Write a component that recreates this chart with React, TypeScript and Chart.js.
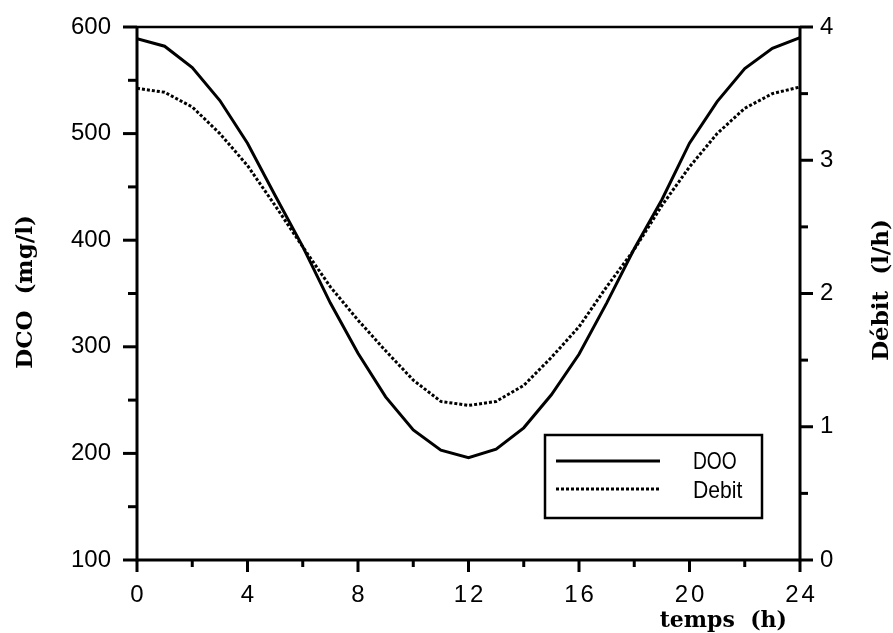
import React, { useEffect, useRef } from "react";
import { Chart, registerables } from "chart.js";

Chart.register(...registerables);

const hours = [0, 1, 2, 3, 4, 5, 6, 7, 8, 9, 10, 11, 12, 13, 14, 15, 16, 17, 18, 19, 20, 21, 22, 23, 24];
const dcoValues = [589, 582, 562, 531, 491, 442, 394, 341, 294, 253, 222, 203, 196, 204, 224, 255, 293, 341, 392, 438, 491, 530, 561, 580, 590];
const debitValues = [3.54, 3.51, 3.4, 3.2, 2.96, 2.66, 2.35, 2.05, 1.8, 1.57, 1.35, 1.19, 1.16, 1.19, 1.31, 1.52, 1.75, 2.05, 2.33, 2.66, 2.95, 3.2, 3.39, 3.5, 3.55];

const xMajorTicks = [0, 4, 8, 12, 16, 20, 24];
const xMinorTicks = [2, 6, 10, 14, 18, 22];
const dcoMajorTicks = [100, 200, 300, 400, 500, 600];
const dcoMinorTicks = [150, 250, 350, 450, 550];
const debitMajorTicks = [0, 1, 2, 3, 4];
const debitMinorTicks = [0.5, 1.5, 2.5, 3.5];

const seriesNames = ["DOO", "Debit"];
const xTitle = "temps  (h)";
const yLeftTitle = "DCO  (mg/l)";
const yRightTitle = "Débit  (l/h)";

const sansFont = '"Liberation Sans", Arial, sans-serif';
const serifFont = '"DejaVu Serif", "Liberation Serif", serif';

const decorPlugin = {
  id: "decor",
  afterDraw(chart: any) {
    const { ctx, chartArea, scales } = chart;
    const { left, right, top, bottom } = chartArea;
    const x = scales.x;
    const y = scales.y;
    const y1 = scales.y1;
    const line = (x0: number, y0: number, x1: number, y1p: number) => {
      ctx.beginPath();
      ctx.moveTo(x0, y0);
      ctx.lineTo(x1, y1p);
      ctx.stroke();
    };
    ctx.save();
    ctx.strokeStyle = "#000";
    ctx.fillStyle = "#000";
    ctx.lineCap = "butt";

    // frame
    ctx.lineWidth = 3;
    line(left, top - 1, left, bottom + 1.5);
    line(right, top - 1, right, bottom + 1.5);
    line(left, bottom, right, bottom);
    ctx.lineWidth = 2.5;
    line(left, top, right, top);

    // left ticks
    ctx.lineWidth = 3;
    dcoMajorTicks.forEach((v) => {
      const p = y.getPixelForValue(v);
      line(left - 14, p, left, p);
    });
    dcoMinorTicks.forEach((v) => {
      const p = y.getPixelForValue(v);
      line(left - 9, p, left, p);
    });
    // right ticks
    debitMajorTicks.forEach((v) => {
      const p = y1.getPixelForValue(v);
      line(right, p, right + 13, p);
    });
    debitMinorTicks.forEach((v) => {
      const p = y1.getPixelForValue(v);
      line(right, p, right + 8, p);
    });
    // bottom ticks
    xMajorTicks.forEach((v) => {
      const p = x.getPixelForValue(v);
      line(p, bottom, p, bottom + 12);
    });
    xMinorTicks.forEach((v) => {
      const p = x.getPixelForValue(v);
      line(p, bottom, p, bottom + 7);
    });

    // x tick labels (spaced digits)
    ctx.font = `24px ${sansFont}`;
    ctx.textAlign = "center";
    ctx.textBaseline = "alphabetic";
    const spacing = 3;
    (ctx as any).letterSpacing = `${spacing}px`;
    xMajorTicks.forEach((v) => {
      const p = x.getPixelForValue(v);
      ctx.fillText(String(v), p + spacing / 2, bottom + 42);
    });
    (ctx as any).letterSpacing = "0px";

    // axis titles
    ctx.font = `bold 22px ${serifFont}`;
    ctx.textAlign = "right";
    ctx.fillText(xTitle, 787, 627);

    ctx.font = `bold 23px ${serifFont}`;
    ctx.textAlign = "center";
    ctx.textBaseline = "middle";
    ctx.save();
    ctx.translate(26, 292);
    ctx.rotate(-Math.PI / 2);
    ctx.fillText(yLeftTitle, 0, 0);
    ctx.restore();
    ctx.save();
    ctx.translate(882, 290);
    ctx.rotate(-Math.PI / 2);
    ctx.fillText(yRightTitle, 0, 0);
    ctx.restore();

    // legend box
    ctx.lineWidth = 2.5;
    ctx.strokeRect(545, 435, 217, 83);
    ctx.lineWidth = 3;
    line(556, 461, 660, 461);
    ctx.setLineDash([3, 2]);
    line(556, 489, 660, 489);
    ctx.setLineDash([]);
    ctx.font = `24px ${sansFont}`;
    ctx.textAlign = "left";
    ctx.textBaseline = "middle";
    ctx.save();
    ctx.translate(693, 462);
    ctx.scale(0.8, 1);
    ctx.fillText(seriesNames[0], 0, 0);
    ctx.restore();
    ctx.save();
    ctx.translate(693, 491);
    ctx.scale(0.88, 1);
    ctx.fillText(seriesNames[1], 0, 0);
    ctx.restore();

    ctx.restore();
  },
};

export default function App() {
  const canvasRef = useRef<HTMLCanvasElement | null>(null);

  useEffect(() => {
    if (!canvasRef.current) return;
    const chart = new Chart(canvasRef.current, {
      type: "line",
      data: {
        datasets: [
          {
            label: seriesNames[0],
            data: hours.map((h, i) => ({ x: h, y: dcoValues[i] })),
            borderColor: "#000",
            borderWidth: 3,
            pointRadius: 0,
            tension: 0,
            yAxisID: "y",
          },
          {
            label: seriesNames[1],
            data: hours.map((h, i) => ({ x: h, y: debitValues[i] })),
            borderColor: "#000",
            borderWidth: 3,
            borderDash: [3, 2],
            pointRadius: 0,
            tension: 0,
            yAxisID: "y1",
          },
        ],
      },
      options: {
        responsive: false,
        animation: false,
        devicePixelRatio: 1,
        layout: { padding: { top: 27, left: 0, right: 0, bottom: 0 } },
        plugins: {
          legend: { display: false },
          tooltip: { enabled: false },
        },
        scales: {
          x: {
            type: "linear",
            min: 0,
            max: 24,
            ticks: { display: false, stepSize: 4 },
            grid: { display: false },
            border: { display: false },
            afterFit: (s: any) => {
              s.height = 73;
            },
          },
          y: {
            type: "linear",
            position: "left",
            min: 100,
            max: 600,
            ticks: {
              stepSize: 100,
              color: "#000",
              font: { family: sansFont, size: 24 },
              padding: 12,
            },
            grid: { display: true, drawOnChartArea: false, color: "rgba(0,0,0,0)", tickLength: 14 },
            border: { display: false },
            afterFit: (s: any) => {
              s.width = 137;
            },
          },
          y1: {
            type: "linear",
            position: "right",
            min: 0,
            max: 4,
            ticks: {
              stepSize: 1,
              color: "#000",
              font: { family: sansFont, size: 24 },
              padding: 6,
            },
            grid: { display: true, drawOnChartArea: false, color: "rgba(0,0,0,0)", tickLength: 14 },
            border: { display: false },
            afterFit: (s: any) => {
              s.width = 93;
            },
          },
        },
      },
      plugins: [decorPlugin],
    });
    return () => chart.destroy();
  }, []);

  return (
    <div style={{ position: "absolute", left: 0, top: 0, width: 893, height: 633, background: "#fff" }}>
      <canvas ref={canvasRef} width={893} height={633} />
    </div>
  );
}
